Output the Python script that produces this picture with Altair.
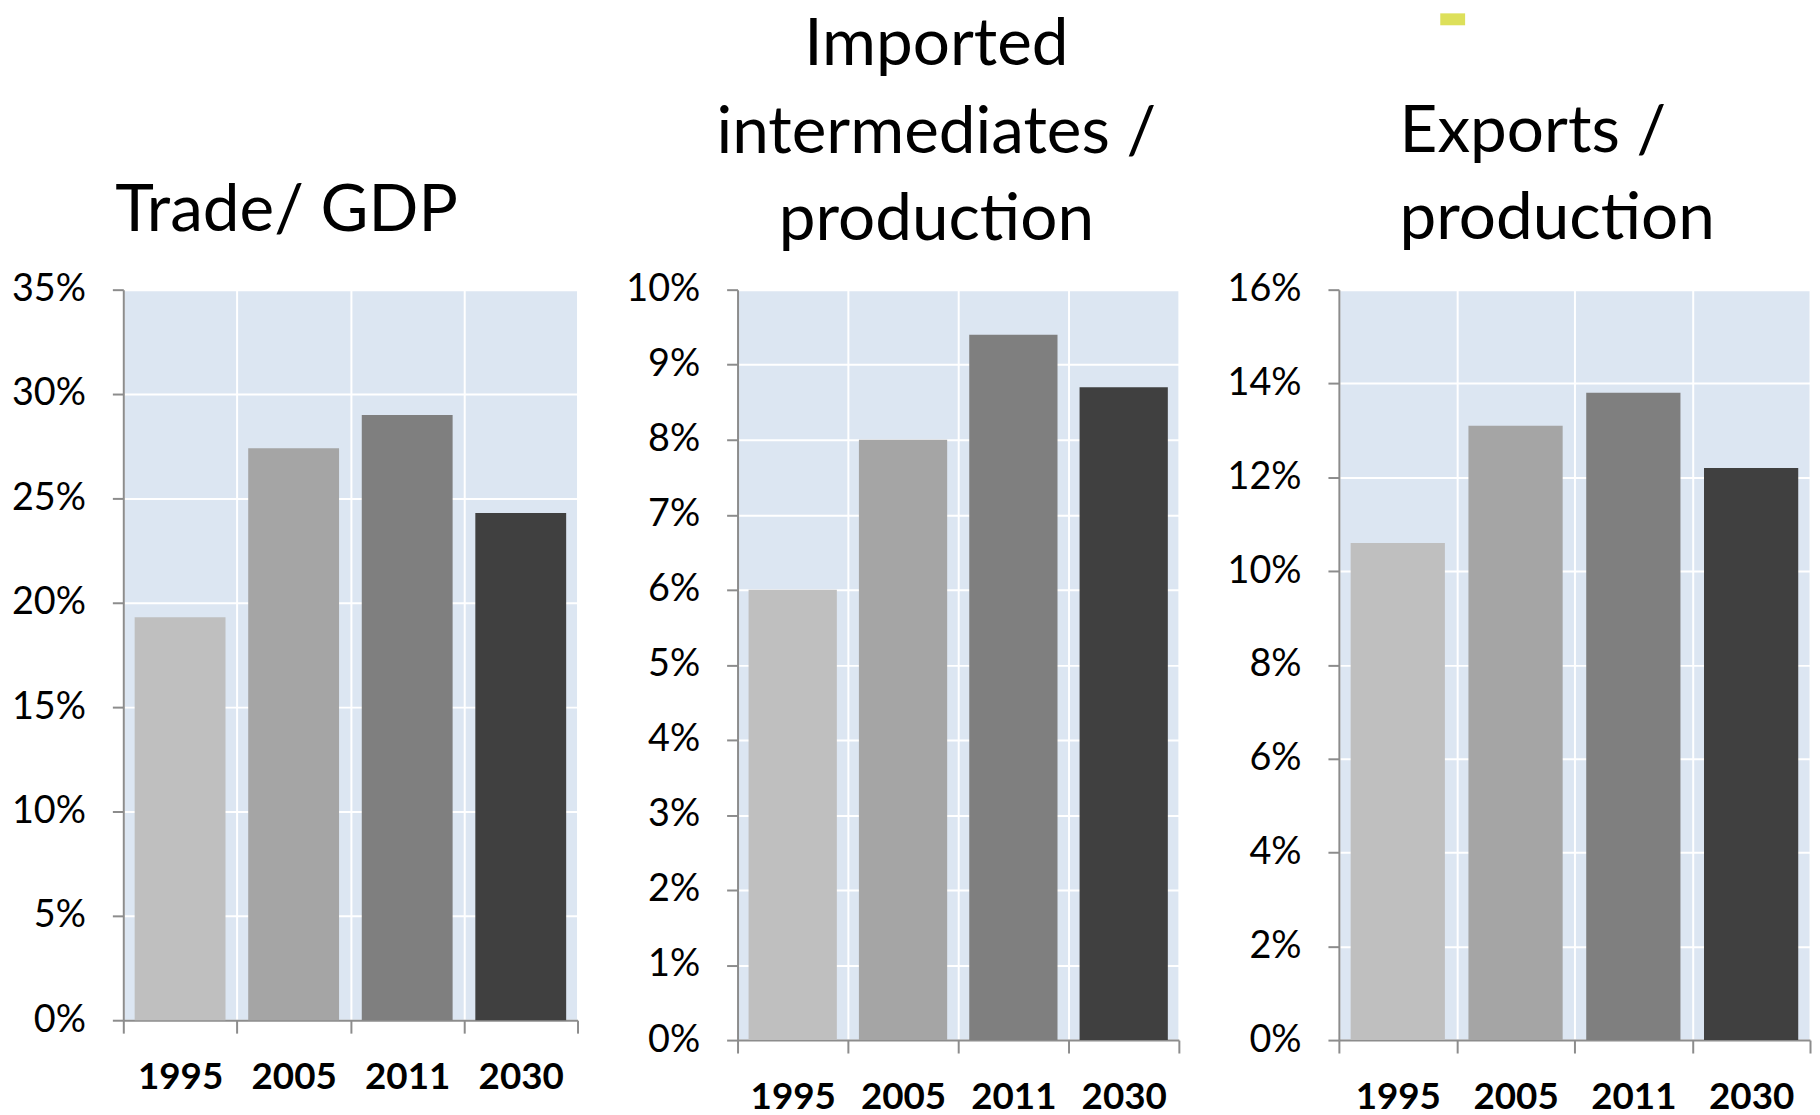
import altair as alt
import pandas as pd

years = ["1995", "2005", "2011", "2030"]
trade_gdp = [19.3, 27.4, 29.0, 24.3]
imported_inter = [6.0, 8.0, 9.4, 8.7]
exports_prod = [10.6, 13.1, 13.8, 12.2]
bar_colors = ["#bfbfbf", "#a5a5a5", "#7f7f7f", "#404040"]

titles = [
    ["Trade/ GDP"],
    ["Imported", "intermediates /", "production"],
    ["Exports /", "production"],
]

FONT = "Lato"
AXIS_GREY = "#8c8c8c"
TITLE_SIZE = 66
LINE_H = 88


def title_layers(lines, x, align, last_baseline):
    one = pd.DataFrame({"k": [0]})
    out = []
    n = len(lines)
    for i, line in enumerate(lines):
        y = last_baseline - (n - 1 - i) * LINE_H
        out.append(
            alt.Chart(one)
            .mark_text(
                text=line,
                font=FONT,
                fontSize=TITLE_SIZE,
                color="black",
                align=align,
                baseline="alphabetic",
            )
            .encode(x=alt.value(x), y=alt.value(y))
        )
    return out


def panel(values, ymax, ystep, width, height, title, tx, talign, tbase, extra=None):
    df = pd.DataFrame({"year": years, "value": values})
    ticks = list(range(0, ymax + 1, ystep))
    bars = alt.Chart(df).mark_bar(width=alt.RelativeBandSize(0.8)).encode(
        x=alt.X(
            "year:N",
            sort=years,
            scale=alt.Scale(paddingInner=0, paddingOuter=0),
            axis=alt.Axis(
                title=None,
                labelAngle=0,
                tickBand="extent",
                grid=True,
                gridColor="white",
                gridWidth=2,
                domainColor=AXIS_GREY,
                domainWidth=2,
                tickColor=AXIS_GREY,
                tickWidth=2,
                tickSize=13,
                labelFont=FONT,
                labelFontSize=37,
                labelFontWeight="bold",
                labelColor="black",
                labelPadding=27,
            ),
        ),
        y=alt.Y(
            "value:Q",
            scale=alt.Scale(domain=[0, ymax], nice=False),
            axis=alt.Axis(
                title=None,
                values=ticks,
                labelExpr="datum.value + '%'",
                grid=True,
                gridColor="white",
                gridWidth=2,
                domainColor=AXIS_GREY,
                domainWidth=2,
                tickColor=AXIS_GREY,
                tickWidth=2,
                tickSize=11,
                labelFont=FONT,
                labelFontSize=38,
                labelColor="black",
                labelPadding=27,
            ),
        ),
        color=alt.Color(
            "year:N", scale=alt.Scale(domain=years, range=bar_colors), legend=None
        ),
    )
    layers = [bars] + title_layers(title, tx, talign, tbase)
    if extra is not None:
        layers.append(extra)
    return alt.layer(*layers).properties(width=width, height=height)


deco = alt.Chart(pd.DataFrame({"k": [0]})).mark_rect(color="#dde05a").encode(
    x=alt.value(102), x2=alt.value(127), y=alt.value(-278), y2=alt.value(-266)
)

p1 = panel(trade_gdp, 35, 5, 457, 735, titles[0], -8, "left", -59)
p2 = panel(imported_inter, 10, 1, 444, 755, titles[1], 200, "center", -50)
p3 = panel(exports_prod, 16, 2, 474, 755, titles[2], 61, "left", -51, deco)

chart = alt.hconcat(p1, p2, p3, spacing=161, bounds="flush").properties(
    padding={"left": 2, "top": 0, "right": 0, "bottom": 0}
).configure_view(fill="#dce6f2", stroke="transparent")

chart.save("out.html", embed_options={"renderer": "svg", "actions": False})
